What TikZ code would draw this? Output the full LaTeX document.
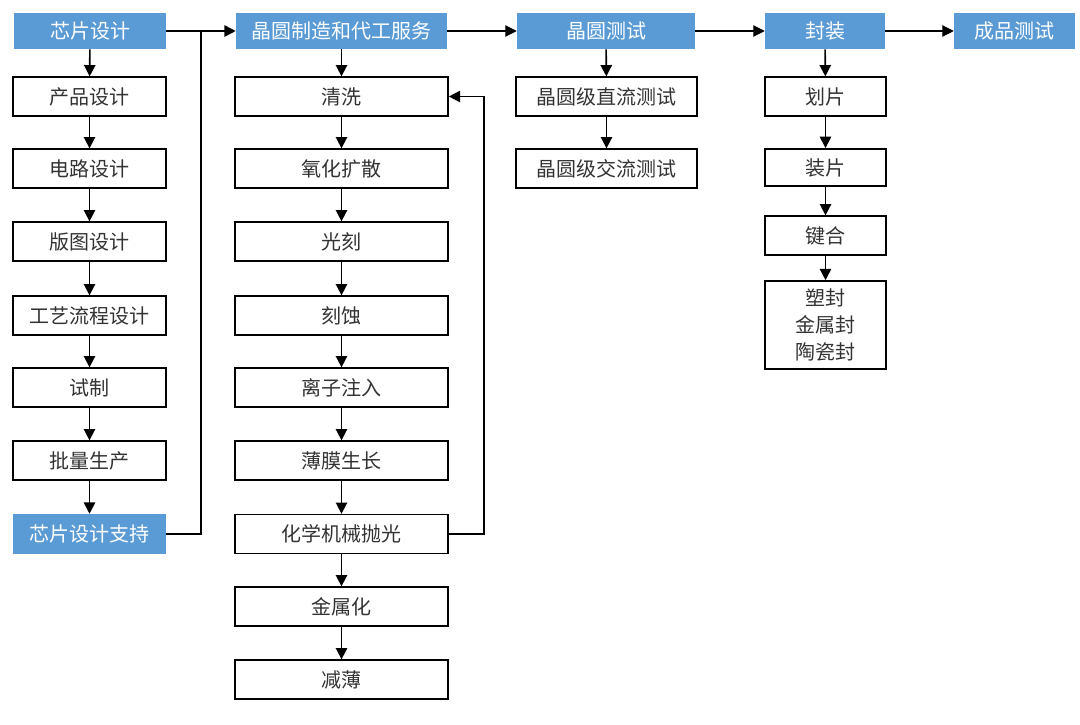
\documentclass[tikz,border=0pt]{standalone}
\usepackage{fontspec}
\newfontfamily\cjk{Noto Sans CJK SC}
\usetikzlibrary{arrows.meta}
\definecolor{hblue}{HTML}{5B9BD5}
\definecolor{txt}{HTML}{333333}
\tikzset{
  base/.style={font=\cjk\fontsize{15}{20}\selectfont, inner sep=0pt, align=center},
  hdr/.style={base, fill=hblue, text=white, minimum height=27pt},
  box/.style={base, draw=black, line width=1.2pt, fill=white, text=txt, minimum height=29pt},
  wd/.style={minimum width=#1*0.75pt},
  ln/.style={line width=1.2pt, draw=black},
  arr/.style={ln, -{Triangle[length=8.5pt,width=8.5pt]}},
}
\begin{document}
\begin{tikzpicture}[x=0.75pt,y=-0.75pt]
\useasboundingbox (0,0) rectangle (1080,724);
% column 1
\node[hdr, wd=152] (d0) at (90,31) {芯片设计};
\node[box, wd=153] (d1) at (89.5,96.5) {产品设计};
\node[box, wd=153] (d2) at (89.5,168.5) {电路设计};
\node[box, wd=153] (d3) at (89.5,241.5) {版图设计};
\node[box, wd=153] (d4) at (89.5,315.5) {工艺流程设计};
\node[box, wd=153] (d5) at (89.5,387.5) {试制};
\node[box, wd=153] (d6) at (89.5,460.5) {批量生产};
\node[hdr, wd=153, minimum height=30pt] (d7) at (89.5,534) {芯片设计支持};
% column 2
\node[hdr, wd=211] (m0) at (341.5,31) {晶圆制造和代工服务};
\node[box, wd=213] (m1) at (341.5,96.5) {清洗};
\node[box, wd=213] (m2) at (341.5,168.5) {氧化扩散};
\node[box, wd=213] (m3) at (341.5,241.5) {光刻};
\node[box, wd=213] (m4) at (341.5,315.5) {刻蚀};
\node[box, wd=213] (m5) at (341.5,387.5) {离子注入};
\node[box, wd=213] (m6) at (341.5,460.5) {薄膜生长};
\node[box, wd=213] (m7) at (341.5,534) {化学机械抛光};
\node[box, wd=213] (m8) at (341.5,606.5) {金属化};
\node[box, wd=213] (m9) at (341.5,679.5) {减薄};
% column 3
\node[hdr, wd=178] (t0) at (606,31) {晶圆测试};
\node[box, wd=181] (t1) at (606.5,96.5) {晶圆级直流测试};
\node[box, wd=181] (t2) at (606.5,168.5) {晶圆级交流测试};
% column 4
\node[hdr, wd=120] (p0) at (825,31) {封装};
\node[box, wd=121] (p1) at (825.5,96.5) {划片};
\node[box, wd=121, minimum height=28pt] (p2) at (825.5,167.5) {装片};
\node[box, wd=121] (p3) at (825.5,235.5) {键合};
\node[box, wd=121, minimum height=66pt] (p4) at (825.5,325) {塑封\\金属封\\陶瓷封};
% column 5
\node[hdr, wd=121] (f0) at (1014.5,31) {成品测试};
% junction coordinates
\coordinate (jn) at (201,31);
\coordinate (fb) at (484,534);
% connectors
\draw[arr] (d0) -- (d1);
\draw[arr] (d1) -- (d2);
\draw[arr] (d2) -- (d3);
\draw[arr] (d3) -- (d4);
\draw[arr] (d4) -- (d5);
\draw[arr] (d5) -- (d6);
\draw[arr] (d6) -- (d7);
\draw[arr] (d0.east) -- (m0.west);
\draw[ln] (d7.east) -| (jn);
\draw[arr] (m0) -- (m1);
\draw[arr] (m1) -- (m2);
\draw[arr] (m2) -- (m3);
\draw[arr] (m3) -- (m4);
\draw[arr] (m4) -- (m5);
\draw[arr] (m5) -- (m6);
\draw[arr] (m6) -- (m7);
\draw[arr] (m7) -- (m8);
\draw[arr] (m8) -- (m9);
\draw[arr] (m7.east) -- (fb) |- (m1.east);
\draw[arr, line width=0.8pt] (m0.east) -- (t0.west);
\draw[arr] (t0) -- (t1);
\draw[arr] (t1) -- (t2);
\draw[arr, line width=0.8pt] (t0.east) -- (p0.west);
\draw[arr] (p0) -- (p1);
\draw[arr] (p1) -- (p2);
\draw[arr] (p2) -- (p3);
\draw[arr] (p3) -- (p4);
\draw[arr, line width=0.8pt] (p0.east) -- (f0.west);
\end{tikzpicture}
\end{document}
